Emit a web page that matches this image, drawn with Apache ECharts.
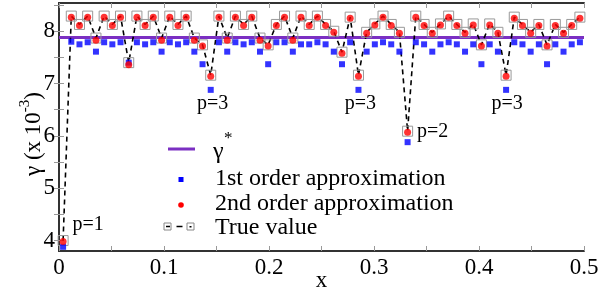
<!DOCTYPE html>
<html>
<head>
<meta charset="utf-8">
<script src="https://cdn.jsdelivr.net/npm/echarts@6.0.0/dist/echarts.min.js"></script>
<style>
  html, body { margin: 0; padding: 0; background: #fff; }
  #chart { width: 600px; height: 287px; }
</style>
</head>
<body>
<div id="chart"></div>
<script>
// sample positions along x
const xValues = [
  0.0039, 0.0117, 0.0195, 0.0273, 0.0352, 0.0430, 0.0508, 0.0586,
  0.0664, 0.0742, 0.0820, 0.0898, 0.0977, 0.1055, 0.1133, 0.1211,
  0.1289, 0.1367, 0.1445, 0.1523, 0.1602, 0.1680, 0.1758, 0.1836,
  0.1914, 0.1992, 0.2070, 0.2148, 0.2227, 0.2305, 0.2383, 0.2461,
  0.2539, 0.2617, 0.2695, 0.2773, 0.2852, 0.2930, 0.3008, 0.3086,
  0.3164, 0.3242, 0.3320, 0.3398, 0.3477, 0.3555, 0.3633, 0.3711,
  0.3789, 0.3867, 0.3945, 0.4023, 0.4102, 0.4180, 0.4258, 0.4336,
  0.4414, 0.4492, 0.4570, 0.4648, 0.4727, 0.4805, 0.4883, 0.4961
];
const trueValue = [
  4.00, 8.29, 8.13, 8.29, 7.87, 8.29, 8.13, 8.29,
  7.40, 8.29, 8.13, 8.29, 7.87, 8.29, 8.13, 8.29,
  7.87, 7.74, 7.16, 8.29, 7.87, 8.29, 8.13, 8.29,
  7.87, 7.74, 8.13, 8.29, 7.87, 8.29, 8.13, 8.29,
  8.13, 8.00, 7.60, 8.27, 7.16, 7.98, 8.14, 8.29,
  8.13, 7.98, 6.09, 8.29, 8.13, 7.98, 8.14, 8.29,
  8.13, 7.98, 8.14, 7.74, 8.14, 7.98, 7.16, 8.27,
  8.13, 7.98, 8.13, 7.74, 8.13, 7.98, 8.13, 8.27
];
const firstOrder = [
  3.88, 7.80, 7.75, 7.79, 7.61, 7.79, 7.75, 7.79,
  7.40, 7.79, 7.75, 7.79, 7.61, 7.79, 7.75, 7.79,
  7.61, 7.37, 6.88, 7.79, 7.61, 7.79, 7.75, 7.79,
  7.61, 7.37, 7.79, 7.79, 7.61, 7.75, 7.75, 7.79,
  7.75, 7.61, 7.37, 7.79, 6.88, 7.61, 7.75, 7.79,
  7.75, 7.61, 5.88, 7.79, 7.75, 7.61, 7.75, 7.79,
  7.75, 7.61, 7.75, 7.37, 7.75, 7.61, 6.88, 7.79,
  7.75, 7.61, 7.75, 7.37, 7.75, 7.61, 7.75, 7.79
];
const secondOrder = [
  3.98, 8.27, 8.11, 8.27, 7.83, 8.27, 8.11, 8.27,
  7.36, 8.27, 8.11, 8.27, 7.83, 8.27, 8.11, 8.27,
  7.83, 7.72, 7.14, 8.27, 7.83, 8.27, 8.11, 8.27,
  7.83, 7.72, 8.11, 8.27, 7.83, 8.27, 8.11, 8.27,
  8.11, 7.98, 7.58, 8.25, 7.14, 7.96, 8.12, 8.27,
  8.11, 7.96, 6.07, 8.27, 8.11, 7.96, 8.12, 8.27,
  8.11, 7.96, 8.12, 7.72, 8.12, 7.96, 7.14, 8.25,
  8.11, 7.96, 8.11, 7.72, 8.11, 7.96, 8.11, 8.25
];
const gammaStar = 7.88;
const xRange = [0, 0.5];
const yLabels = [4, 5, 6, 7, 8];
const yTicks = [4, 4.5, 5, 5.5, 6, 6.5, 7, 7.5, 8, 8.5];
// which points get a "p=" note
const noteIndex = [0, 18, 36, 54, 42];
const noteText = ['p=1', 'p=3', 'p=3', 'p=3', 'p=2'];

const noteOffsets = [[25, -17], [2, 28], [2, 28], [1, 28], [25, 0]];
const serif = '"Liberation Serif", "DejaVu Serif", serif';
const purple = '#7b2fc2';

const chart = echarts.init(document.getElementById('chart'));

const pairs = ys => xValues.map((x, i) => [x, ys[i]]);

const axisLine = { lineStyle: { color: '#333', width: 2 } };
const axisTick = { inside: true, length: 5, lineStyle: { color: '#999', width: 1 } };
const minorTick = { show: true, splitNumber: 2, length: 5, lineStyle: { color: '#999', width: 1 } };

const xAxisBase = {
  type: 'value', min: xRange[0], max: xRange[1], interval: 0.1,
  axisLine: axisLine, axisTick: axisTick, minorTick: minorTick,
  splitLine: { show: false }
};
const yAxisBase = {
  type: 'value', min: 3.8, max: 8.54,
  axisLine: axisLine,
  axisTick: Object.assign({ customValues: yTicks }, axisTick),
  splitLine: { show: false }
};

const option = {
  animation: false,
  backgroundColor: '#fff',
  grid: { left: 59, right: 16, top: 3, bottom: 36, outerBoundsMode: 'none', containLabel: false },
  xAxis: [
    Object.assign({}, xAxisBase, {
      position: 'bottom',
      name: 'x', nameLocation: 'middle', nameGap: 18, nameMoveOverlap: false,
      nameTextStyle: { fontFamily: serif, fontSize: 23, color: '#000' },
      axisLabel: { fontFamily: serif, fontSize: 23, color: '#000', margin: 5 }
    }),
    Object.assign({}, xAxisBase, { position: 'top', axisLabel: { show: false } })
  ],
  yAxis: [
    Object.assign({}, yAxisBase, {
      position: 'left',
      name: '{a|γ (x 10}{b|-3}{c|)}', nameLocation: 'middle', nameGap: 14, nameMoveOverlap: false,
      nameTextStyle: {
        color: '#000',
        rich: {
          a: { fontFamily: serif, fontSize: 23, color: '#000', verticalAlign: 'bottom' },
          b: { fontFamily: serif, fontSize: 15, color: '#000', verticalAlign: 'top', padding: [0, 0, 12, 0] },
          c: { fontFamily: serif, fontSize: 23, color: '#000', verticalAlign: 'bottom', padding: [0, 14, 0, 0] }
        }
      },
      axisLabel: { customValues: yLabels, fontFamily: serif, fontSize: 23, color: '#000', margin: 4 }
    }),
    Object.assign({}, yAxisBase, { position: 'right', axisLabel: { show: false } })
  ],
  series: [
    {
      name: 'γ*', type: 'line', z: 1,
      data: [[xRange[0], gammaStar], [xRange[1], gammaStar]],
      symbol: 'none',
      lineStyle: { color: purple, width: 3 }
    },
    {
      name: 'True value', type: 'line', z: 2,
      data: pairs(trueValue),
      symbol: 'rect', symbolSize: 10, showAllSymbol: true,
      itemStyle: { color: 'rgba(0,0,0,0)', borderColor: '#999', borderWidth: 1 },
      lineStyle: { color: '#000', width: 1.6, type: [5, 4] }
    },
    {
      name: '1st order approximation', type: 'scatter', z: 3,
      data: pairs(firstOrder),
      symbol: 'rect', symbolSize: 6,
      itemStyle: { color: '#0000ff' }
    },
    {
      name: '2nd order approximation', type: 'scatter', z: 4,
      data: pairs(secondOrder),
      symbol: 'circle', symbolSize: 7,
      itemStyle: { color: '#ff0000' }
    },
    {
      name: 'notes', type: 'scatter', z: 5, silent: true,
      symbolSize: 1,
      itemStyle: { color: '#fff', opacity: 0 },
      data: noteIndex.map((k, i) => ({
        name: noteText[i],
        value: [xValues[k], secondOrder[k]],
        label: { offset: noteOffsets[i] }
      })),
      label: {
        show: true, position: 'inside', formatter: p => p.name,
        fontFamily: serif, fontSize: 20, color: '#000', opacity: 1, textBorderWidth: 0
      }
    }
  ],
  // legend box drawn by hand so it matches the original layout
  graphic: [
    { type: 'line', shape: { x1: 168, y1: 149, x2: 195, y2: 149 }, style: { stroke: purple, lineWidth: 3 } },
    { type: 'text', x: 213, y: 152, style: { text: 'γ', fontFamily: serif, fontSize: 24, fill: '#000', verticalAlign: 'middle' } },
    { type: 'text', x: 224, y: 139, style: { text: '*', fontFamily: serif, fontSize: 17, fill: '#000', verticalAlign: 'middle' } },
    { type: 'rect', shape: { x: 178.5, y: 177, width: 5, height: 5 }, style: { fill: '#0000ff' } },
    { type: 'text', x: 215, y: 179, style: { text: '1st order approximation', fontFamily: serif, fontSize: 24, fill: '#000', verticalAlign: 'middle' } },
    { type: 'circle', shape: { cx: 181, cy: 205, r: 2.8 }, style: { fill: '#ff0000' } },
    { type: 'text', x: 215, y: 204, style: { text: '2nd order approximation', fontFamily: serif, fontSize: 24, fill: '#000', verticalAlign: 'middle' } },
    { type: 'rect', shape: { x: 164, y: 223, width: 7, height: 7 }, style: { fill: 'none', stroke: '#888', lineWidth: 1 } },
    { type: 'line', shape: { x1: 166, y1: 226.5, x2: 170, y2: 226.5 }, style: { stroke: '#000', lineWidth: 1.5 } },
    { type: 'line', shape: { x1: 176.5, y1: 226.5, x2: 182.5, y2: 226.5 }, style: { stroke: '#000', lineWidth: 1.5 } },
    { type: 'rect', shape: { x: 187, y: 223, width: 7, height: 7 }, style: { fill: 'none', stroke: '#888', lineWidth: 1 } },
    { type: 'rect', shape: { x: 189.5, y: 226, width: 2, height: 1.5 }, style: { fill: '#000' } },
    { type: 'text', x: 215, y: 228, style: { text: 'True value', fontFamily: serif, fontSize: 24, fill: '#000', verticalAlign: 'middle' } }
  ]
};

chart.setOption(option);
</script>
</body>
</html>
